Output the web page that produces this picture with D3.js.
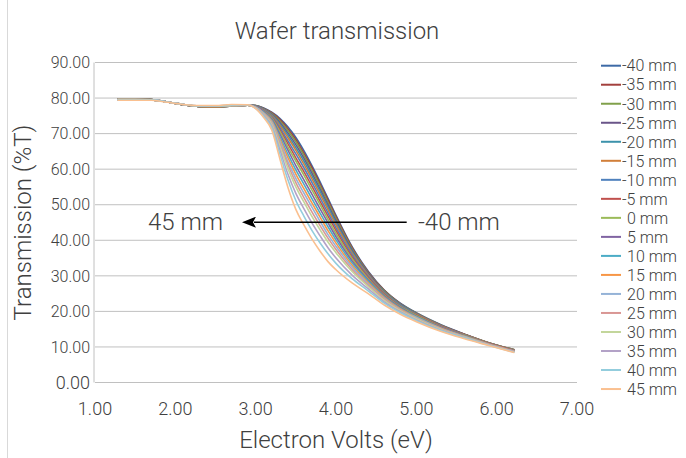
<!DOCTYPE html>
<html>
<head>
<meta charset="utf-8">
<script src="https://cdn.jsdelivr.net/npm/d3@7"></script>
<style>
  body { margin: 0; background: #fff; }
  text { font-family: Roboto, "Open Sans", sans-serif; font-weight: 300; fill: #404040; }
</style>
</head>
<body>
<div id="chart"></div>
<script>
var width = 686;
var height = 458;

// electron volts, shared by every series
var ev = [1.28, 1.5, 1.7, 1.9, 2.1, 2.3, 2.5, 2.7, 2.9, 3.0, 3.1, 3.2, 3.3, 3.4, 3.5, 3.6, 3.7, 3.8, 3.9, 4.0,
          4.2, 4.4, 4.6, 4.8, 5.0, 5.3, 5.6, 5.9, 6.22];

// wafer positions (mm)
var positions = [-40, -35, -30, -25, -20, -15, -10, -5, 0, 5, 10, 15, 20, 25, 30, 35, 40, 45];

// transmission (%T) per position
var tM40 = [79.7,79.7,79.6,78.9,78.1,77.6,77.5,77.8,78.0, 77.9,77.2,76.0,74.3,71.9,68.9,65.2,61.0,56.5,51.8,47.0,38.2,31.3,26.0,22.3,19.6,16.3,13.6,11.2,9.2];
var tM35 = [79.7,79.7,79.6,78.9,78.1,77.6,77.5,77.8,78.0, 77.9,77.1,75.9,74.0,71.4,68.3,64.5,60.4,55.9,51.3,46.6,37.9,31.1,25.9,22.2,19.5,16.2,13.6,11.2,9.2];
var tM30 = [79.7,79.7,79.6,78.9,78.1,77.6,77.5,77.8,78.0, 77.9,77.0,75.7,73.6,70.9,67.7,63.9,59.7,55.3,50.7,46.1,37.6,30.9,25.8,22.1,19.5,16.2,13.5,11.2,9.2];
var tM25 = [79.7,79.7,79.6,78.9,78.1,77.6,77.5,77.8,78.0, 77.8,76.9,75.5,73.2,70.2,66.9,63.1,58.9,54.5,50.0,45.5,37.2,30.7,25.6,22.0,19.4,16.1,13.5,11.1,9.1];
var tM20 = [79.7,79.7,79.6,78.9,78.1,77.6,77.5,77.8,78.0, 77.8,76.8,75.3,72.7,69.6,66.1,62.3,58.1,53.8,49.3,44.9,36.8,30.4,25.4,21.9,19.3,16.0,13.4,11.1,9.1];
var tM15 = [79.7,79.7,79.6,78.9,78.1,77.6,77.5,77.8,78.0, 77.7,76.7,75.1,72.3,68.9,65.3,61.4,57.3,53.0,48.6,44.3,36.4,30.2,25.2,21.7,19.2,16.0,13.4,11.1,9.1];
var tM10 = [79.6,79.6,79.5,78.9,78.2,77.7,77.7,77.9,78.0, 77.7,76.6,74.9,71.7,68.0,64.3,60.4,56.3,52.0,47.7,43.5,35.9,29.9,25.0,21.6,19.0,15.9,13.3,11.0,9.0];
var tM5  = [79.6,79.6,79.5,78.9,78.2,77.7,77.7,77.9,78.0, 77.7,76.4,74.6,71.1,67.2,63.2,59.3,55.2,51.0,46.8,42.7,35.3,29.5,24.8,21.4,18.9,15.8,13.2,11.0,9.0];
var t0   = [79.6,79.6,79.5,78.9,78.2,77.7,77.7,77.9,78.0, 77.6,76.3,74.4,70.6,66.3,62.3,58.3,54.2,50.1,45.9,41.9,34.8,29.2,24.6,21.3,18.8,15.7,13.2,10.9,8.9];
var tP5  = [79.6,79.6,79.5,78.9,78.2,77.7,77.7,77.9,78.0, 77.6,76.2,74.1,69.9,65.4,61.0,57.0,53.0,48.9,44.9,41.0,34.2,28.8,24.4,21.1,18.6,15.6,13.1,10.9,8.9];
var tP10 = [79.6,79.6,79.5,78.9,78.2,77.7,77.7,77.9,78.0, 77.5,76.0,73.8,69.2,64.3,59.8,55.8,51.7,47.7,43.8,40.1,33.6,28.5,24.1,20.9,18.5,15.4,13.0,10.8,8.8];
var tP15 = [79.6,79.6,79.5,78.9,78.2,77.7,77.7,77.9,78.0, 77.4,75.8,73.5,68.5,63.3,58.6,54.5,50.5,46.6,42.7,39.2,33.0,28.1,23.9,20.7,18.3,15.3,12.9,10.8,8.8];
var tP20 = [79.6,79.6,79.5,78.9,78.2,77.7,77.7,77.9,78.0, 77.4,75.7,73.2,67.9,62.2,57.4,53.3,49.3,45.4,41.6,38.3,32.4,27.7,23.6,20.5,18.2,15.2,12.9,10.7,8.7];
var tP25 = [79.6,79.6,79.5,78.9,78.2,77.7,77.7,77.9,78.0, 77.3,75.5,72.9,67.2,61.3,56.2,52.0,48.0,44.2,40.6,37.4,31.8,27.3,23.4,20.4,18.0,15.1,12.8,10.7,8.7];
var tP30 = [79.6,79.6,79.5,78.9,78.2,77.7,77.7,77.9,78.0, 77.3,75.3,72.6,66.5,60.3,55.0,50.8,46.7,43.0,39.5,36.5,31.2,27.0,23.1,20.2,17.9,15.0,12.7,10.6,8.6];
var tP35 = [79.5,79.5,79.5,78.9,78.2,77.8,77.8,78.0,78.1, 77.2,75.1,72.1,65.5,58.7,53.2,48.9,44.9,41.3,37.9,35.0,30.2,26.4,22.7,19.9,17.6,14.8,12.6,10.6,8.6];
var tP40 = [79.5,79.5,79.5,78.9,78.2,77.8,77.8,78.0,78.1, 77.1,74.8,71.6,64.4,57.1,51.2,46.8,42.8,39.3,36.2,33.5,29.2,25.8,22.3,19.6,17.4,14.6,12.5,10.5,8.5];
var tP45 = [79.4,79.4,79.4,78.8,78.2,77.9,77.9,78.2,78.1, 77.0,74.5,71.0,63.0,55.0,48.7,44.3,40.4,37.0,34.0,31.7,28.0,25.0,21.8,19.2,17.1,14.4,12.3,10.4,8.4];

var seriesValues = [tM40, tM35, tM30, tM25, tM20, tM15, tM10, tM5, t0, tP5, tP10, tP15, tP20, tP25, tP30, tP35, tP40, tP45];

var colors = ["#3d6aa6", "#a3403d", "#80a04a", "#6a5589", "#3c92ab", "#d17f3a",
              "#4f81bd", "#c0504d", "#9bbb59", "#8064a2", "#4bacc6", "#f79646",
              "#95b3d7", "#d99694", "#c3d69b", "#b3a2c7", "#93cddd", "#fac090"];

var xTicks = [1, 2, 3, 4, 5, 6, 7];
var yTicks = [0, 10, 20, 30, 40, 50, 60, 70, 80, 90];

// annotation: arrow runs from the -40 mm label toward the 45 mm label
var arrowFrom = 4.88, arrowTo = 2.83, arrowLevel = 45.1;
var labelLeft = {text: "45 mm", ev: 1.66, t: 43.0};
var labelRight = {text: "-40 mm", ev: 5.02, t: 43.0};

var svg = d3.select("#chart").append("svg")
    .attr("width", width)
    .attr("height", height);

svg.append("rect").attr("width", width).attr("height", height).attr("fill", "#fff");

// chart border (left edge visible)
svg.append("line")
    .attr("x1", 7.5).attr("x2", 7.5).attr("y1", 0).attr("y2", height)
    .attr("stroke", "#d9d9d9");

var x = d3.scaleLinear().domain([1, 7]).range([95, 577]);
var y = d3.scaleLinear().domain([0, 90]).range([382.5, 62.5]);

// gridlines
svg.append("g").selectAll("line")
    .data(yTicks)
    .enter().append("line")
        .attr("x1", x(1)).attr("x2", x(7))
        .attr("y1", function(d){ return y(d); })
        .attr("y2", function(d){ return y(d); })
        .attr("stroke", "#c0c0c0")
        .attr("stroke-width", 1);

svg.append("line")
    .attr("x1", x(1) - 1).attr("x2", x(1) - 1)
    .attr("y1", y(90)).attr("y2", y(0))
    .attr("stroke", "#c0c0c0");

// tick labels
svg.append("g").selectAll("text")
    .data(yTicks)
    .enter().append("text")
        .attr("x", 90)
        .attr("y", function(d){ return y(d); })
        .attr("dy", "0.36em")
        .attr("text-anchor", "end")
        .style("font-size", function(d){ return d === 0 ? "18px" : "16px"; })
        .text(function(d){ return d3.format(".2f")(d); });

svg.append("g").selectAll("text")
    .data(xTicks)
    .enter().append("text")
        .attr("x", function(d){ return x(d); })
        .attr("y", 415)
        .attr("text-anchor", "middle")
        .style("font-size", "18px")
        .text(function(d){ return d3.format(".2f")(d); });

// titles
svg.append("text")
    .attr("x", 337).attr("y", 39)
    .attr("text-anchor", "middle")
    .style("font-size", "24px")
    .text("Wafer transmission");

svg.append("text")
    .attr("x", x(4)).attr("y", 448)
    .attr("text-anchor", "middle")
    .style("font-size", "24px")
    .text("Electron Volts (eV)");

svg.append("text")
    .attr("transform", "translate(31," + ((y(0) + y(90)) / 2) + ") rotate(-90)")
    .attr("text-anchor", "middle")
    .style("font-size", "24px")
    .text("Transmission (%T)");

// series lines
var line = d3.line()
    .x(function(d, i){ return x(ev[i]); })
    .y(function(d){ return y(d); })
    .curve(d3.curveMonotoneX);

svg.append("g").selectAll("path")
    .data(seriesValues)
    .enter().append("path")
        .attr("d", line)
        .attr("fill", "none")
        .attr("stroke", function(d, i){ return colors[i]; })
        .attr("stroke-width", 1.6);

// arrow annotation
svg.append("defs").append("marker")
    .attr("id", "head")
    .attr("viewBox", "0 0 14 11")
    .attr("refX", 2).attr("refY", 5.5)
    .attr("markerWidth", 14).attr("markerHeight", 11)
    .attr("markerUnits", "userSpaceOnUse")
    .attr("orient", "auto")
  .append("path")
    .attr("d", "M0,0 L14,5.5 L0,11 L3,5.5 Z")
    .attr("fill", "#000");

svg.append("line")
    .attr("x1", x(arrowFrom)).attr("x2", x(arrowTo) + 12)
    .attr("y1", y(arrowLevel)).attr("y2", y(arrowLevel))
    .attr("stroke", "#000")
    .attr("stroke-width", 1.5)
    .attr("marker-end", "url(#head)");

[labelLeft, labelRight].forEach(function(l){
    svg.append("text")
        .attr("x", x(l.ev)).attr("y", y(l.t))
        .style("font-size", "24px")
        .text(l.text);
});

// legend
var legend = svg.append("g").selectAll("g")
    .data(positions)
    .enter().append("g")
        .attr("transform", function(d, i){ return "translate(601," + (65.7 + i * 19.02) + ")"; });

legend.append("line")
    .attr("x1", 0).attr("x2", 20)
    .attr("stroke", function(d, i){ return colors[i]; })
    .attr("stroke-width", 2);

legend.append("text")
    .attr("x", function(d){ return d < 0 ? 21 : 26; })
    .attr("dy", "0.36em")
    .style("font-size", "16px")
    .text(function(d){ return d + " mm"; });
</script>
</body>
</html>
